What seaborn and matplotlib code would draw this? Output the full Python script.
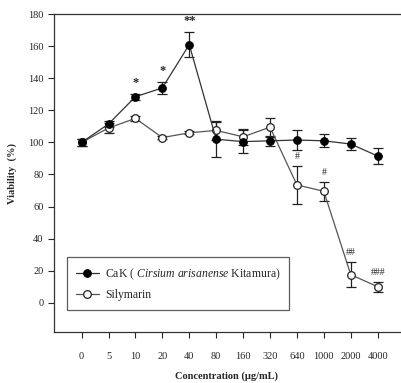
import seaborn as sns
import matplotlib.pyplot as plt
import numpy as np
import pandas as pd

conc = ['0', '5', '10', '20', '40', '80', '160', '320', '640', '1000', '2000', '4000']
cak = [100, 111.5, 128.5, 134, 161, 102, 100.5, 101, 101.5, 101, 99, 91.5]
cak_err = [2, 2, 2, 4, 8, 11, 7, 3, 6, 4, 4, 5]
sil = [100, 109, 115, 103, 106, 107.5, 103.5, 109.5, 73.5, 69.5, 17.5, 10]
sil_err = [2, 3, 1.5, 1, 1, 6, 5, 6, 12, 6, 8, 3]
cak_marks = {2: '*', 3: '*', 4: '**'}
sil_marks = {8: '#', 9: '#', 10: '##', 11: '###'}

sns.set_style('ticks')
plt.rcParams['font.family'] = ['Liberation Serif', 'DejaVu Serif']
plt.rcParams['mathtext.fontset'] = 'custom'
plt.rcParams['mathtext.it'] = 'Liberation Serif:italic'
plt.rcParams['mathtext.rm'] = 'Liberation Serif'

pos = np.arange(len(conc))
d = pd.DataFrame({
    'pos': np.concatenate([pos, pos]),
    'val': cak + sil,
    'grp': ['CaK'] * len(conc) + ['Silymarin'] * len(conc),
})

fig = plt.figure(figsize=(4.02, 3.83), dpi=100)
ax = fig.add_axes([0.134, 0.133, 0.861, 0.830])

ax.errorbar(pos, sil, yerr=sil_err, fmt='none', ecolor='#222222', elinewidth=0.9, capsize=3.5, capthick=0.9, zorder=2)
ax.errorbar(pos, cak, yerr=cak_err, fmt='none', ecolor='#222222', elinewidth=0.9, capsize=3.5, capthick=0.9, zorder=2)

sns.lineplot(data=d[d.grp == 'Silymarin'], x='pos', y='val', color='#555555', lw=0.9, marker='o',
             markersize=5.5, markerfacecolor='white', markeredgecolor='#222222', markeredgewidth=0.9,
             ax=ax, zorder=3, label='Silymarin')
sns.lineplot(data=d[d.grp == 'CaK'], x='pos', y='val', color='#333333', lw=0.9, marker='o',
             markersize=5.5, markerfacecolor='black', markeredgecolor='black',
             ax=ax, zorder=4, label='CaK ( $\\it{Cirsium\\ arisanense}$ Kitamura)')

for i, s in cak_marks.items():
    ax.text(i, cak[i] + cak_err[i] + 3, s, ha='center', va='bottom', fontsize=9, fontweight='bold')
for i, s in sil_marks.items():
    ax.text(i, sil[i] + sil_err[i] + 3, s, ha='center', va='bottom', fontsize=7)

ax.set_xlim(-1.03, 11.83)
ax.set_ylim(-18.3, 180)
ax.set_yticks(np.arange(0, 181, 20))
ax.set_xticks(pos)
ax.set_xticklabels(conc)
ax.tick_params(axis='x', pad=10, labelsize=7.5, length=4, width=0.8)
ax.tick_params(axis='y', labelsize=7.5, length=4, width=0.8)
for s in ['left', 'top', 'bottom']:
    ax.spines[s].set_color('#333333')
    ax.spines[s].set_linewidth(0.9)
ax.spines['right'].set_visible(False)

ax.set_xlabel('Concentration (\u03bcg/mL)', fontsize=7.5, fontweight='bold', labelpad=8)
ax.set_ylabel('Viability  (%)', fontsize=7.5, fontweight='bold', labelpad=8)

h, l = ax.get_legend_handles_labels()
leg = ax.legend(h[::-1], l[::-1], loc='lower left', bbox_to_anchor=(0.02, 0.052), frameon=True, fancybox=False,
                edgecolor='#333333', fontsize=8.5, handlelength=2.0, handletextpad=0.5,
                borderpad=0.75, labelspacing=0.6)
leg.get_frame().set_linewidth(0.9)

plt.savefig('out.png', dpi=100)
